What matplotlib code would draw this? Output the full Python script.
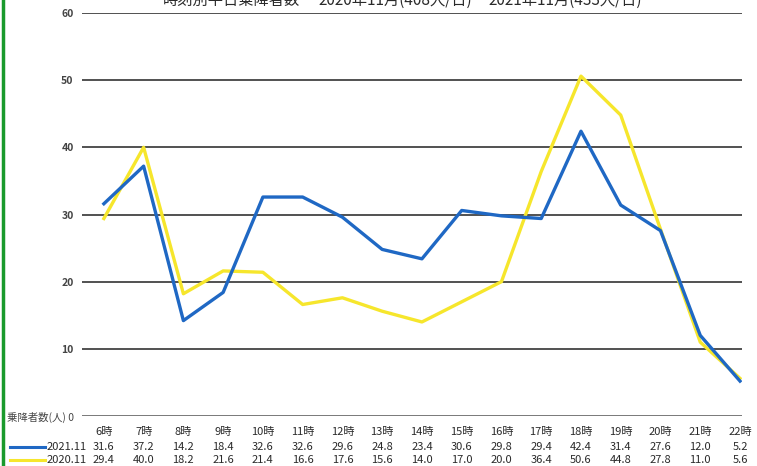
import matplotlib.pyplot as plt
from matplotlib.lines import Line2D

plt.rcParams["font.family"] = ["Noto Sans CJK JP", "DejaVu Sans"]

hours = ["6時", "7時", "8時", "9時", "10時", "11時", "12時", "13時", "14時",
         "15時", "16時", "17時", "18時", "19時", "20時", "21時", "22時"]
riders_2021 = [31.6, 37.2, 14.2, 18.4, 32.6, 32.6, 29.6, 24.8, 23.4,
               30.6, 29.8, 29.4, 42.4, 31.4, 27.6, 12.0, 5.2]
riders_2020 = [29.4, 40.0, 18.2, 21.6, 21.4, 16.6, 17.6, 15.6, 14.0,
               17.0, 20.0, 36.4, 50.6, 44.8, 27.8, 11.0, 5.6]
series_labels = ["2021.11", "2020.11"]
y_ticks = [0, 10, 20, 30, 40, 50, 60]
title_parts = ["時刻別平日乗降者数", "2020年11月(408人/日)", "2021年11月(433人/日)"]

BLUE = "#1f68c4"
YELLOW = "#f6e62c"
TEXT = "#2a2a2a"
W, H = 757, 466


def px(x, y):
    # pixel coords (top-left origin) -> figure fraction
    return x / W, 1 - y / H


fig = plt.figure(figsize=(W / 100, H / 100), dpi=100)
left, bottom = px(82, 416)
right, top = px(742, 13)
ax = fig.add_axes([left, bottom, right - left, top - bottom])

x = list(range(len(hours)))
ax.set_xlim(-0.55, 16.05)
ax.set_ylim(0, 60)

for t in y_ticks:
    ax.axhline(t, color="#555555" if t == 0 else "#222222", lw=1.1, zorder=1)

ax.plot(x, riders_2020, color=YELLOW, lw=2.4, zorder=2)
ax.plot(x, riders_2021, color=BLUE, lw=2.4, zorder=3)

for s in ax.spines.values():
    s.set_visible(False)
ax.set_xticks([])
ax.set_yticks(y_ticks)
ax.set_yticklabels(["乗降者数(人) 0"] + [str(t) for t in y_ticks[1:]])
ax.tick_params(axis="y", length=0, pad=6, labelsize=7.5, labelcolor="#444444")
for lab in ax.get_yticklabels()[1:]:
    lab.set_fontweight("bold")
ax.get_yticklabels()[0].set_fontsize(7.5)

# data table below the chart
fig_tr = fig.transFigure
for i in x:
    xf = fig_tr.inverted().transform(ax.transData.transform((i, 0)))[0]
    fig.text(xf, px(0, 432)[1], hours[i], fontsize=8, ha="center", va="center",
             color=TEXT)
    fig.text(xf, px(0, 447)[1], f"{riders_2021[i]:.1f}", fontsize=8,
             ha="center", va="center", color=TEXT)
    fig.text(xf, px(0, 460)[1], f"{riders_2020[i]:.1f}", fontsize=8,
             ha="center", va="center", color=TEXT)

for row_y, color, label in [(447, BLUE, series_labels[0]), (460, YELLOW, series_labels[1])]:
    x0, yf = px(10, row_y)
    x1, _ = px(45, row_y)
    fig.add_artist(Line2D([x0, x1], [yf, yf], color=color, lw=2.2, transform=fig_tr))
    fig.text(px(47, 0)[0], yf, label, fontsize=8, ha="left", va="center", color=TEXT)

# title sits partly above the top edge, as in the scanned original
for cx, part in zip([231, 395, 565], title_parts):
    fig.text(px(cx, 0)[0], px(0, 0)[1], part, fontsize=11, ha="center", va="center",
             color=TEXT)

# green frame line at left edge
fig.add_artist(Line2D([px(3, 0)[0]] * 2, [0, 1], color="#1a9a2c", lw=2.5, transform=fig_tr))

fig.savefig("out.png", dpi=100)
